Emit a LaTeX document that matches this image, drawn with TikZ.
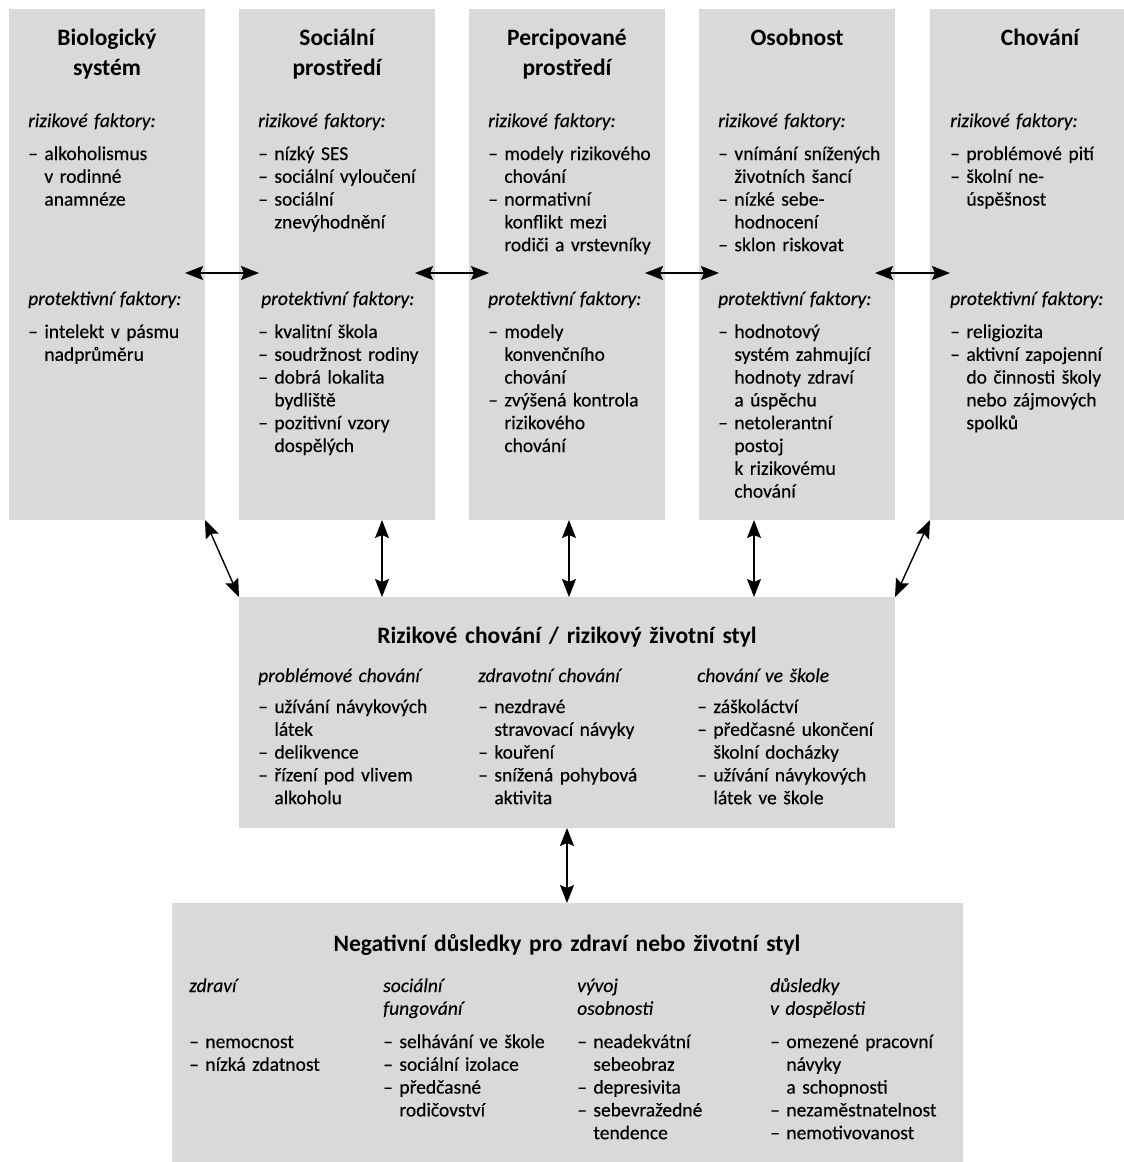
\documentclass[tikz,border=0pt]{standalone}
\usepackage{fontspec}
\setmainfont{Carlito}[WordSpace=0.6, UprightFeatures={FakeBold=0.35}, ItalicFeatures={FakeBold=0.3}]
\usetikzlibrary{arrows.meta}
\definecolor{boxgray}{RGB}{217,217,217}
\newcommand\ii{\hphantom{–\ }}
\tikzset{
  box/.style={fill=boxgray, draw=none, inner sep=0pt, outer sep=0pt, anchor=north west},
  body/.style={font=\fontsize{19.5}{22.8}\selectfont, anchor=base west, inner sep=0pt, align=left, text width=260pt},
  hdr/.style={body, font=\fontsize{19.5}{22.8}\selectfont\itshape},
  ttl/.style={font=\fontsize{23.5}{30}\selectfont\bfseries, anchor=base, inner sep=0pt, align=center, text width=400pt},
  arr/.style={{Stealth[length=18pt,width=14pt,inset=3pt]}-{Stealth[length=18pt,width=14pt,inset=3pt]}, line width=1.4pt},
}
\begin{document}
\begin{tikzpicture}[x=1pt,y=-1pt]
\useasboundingbox (0,0) rectangle (1124,1162);
% boxes
\node[box, minimum width=196pt, minimum height=511pt] (b1) at (9,9) {};
\node[box, minimum width=196pt, minimum height=511pt] (b2) at (239,9) {};
\node[box, minimum width=196pt, minimum height=511pt] (b3) at (469,9) {};
\node[box, minimum width=196pt, minimum height=511pt] (b4) at (699,9) {};
\node[box, minimum width=196pt, minimum height=511pt] (b5) at (930,9) {};
\node[box, minimum width=656pt, minimum height=231pt] (mid) at (239,597) {};
\node[box, minimum width=791pt, minimum height=259pt] (bot) at (172,903) {};
% arrows
\draw[arr, shorten <=-20pt, shorten >=-20pt] ([yshift=-8.5pt]b1.east) -- ([yshift=-8.5pt]b2.west);
\draw[arr, shorten <=-20pt, shorten >=-20pt] ([yshift=-8.5pt]b2.east) -- ([yshift=-8.5pt]b3.west);
\draw[arr, shorten <=-20pt, shorten >=-20pt] ([yshift=-8.5pt]b3.east) -- ([yshift=-8.5pt]b4.west);
\draw[arr, shorten <=-20pt, shorten >=-20pt] ([yshift=-8.5pt]b4.east) -- ([yshift=-8.5pt]b5.west);
\draw[arr] (b1.south east) -- (mid.north west);
\draw[arr] ([xshift=45pt]b2.south) -- ([xshift=45pt]b2.south |- mid.north);
\draw[arr] ([xshift=2pt]b3.south) -- ([xshift=2pt]b3.south |- mid.north);
\draw[arr] ([xshift=-43pt]b4.south) -- ([xshift=-43pt]b4.south |- mid.north);
\draw[arr] (b5.south west) -- (mid.north east);
\draw[arr] (mid.south) -- (mid.south |- bot.north);
% box 1
\node[ttl] (t1) at (107,45) {Biologický\\systém};
\node[hdr] (h1r) at (28,127) {rizikové faktory:};
\node[body] (l1r) at (28,160) {–\ alkoholismus\\\ii v rodinné\\\ii anamnéze};
\node[hdr] (h1p) at (28,305) {protektivní faktory:};
\node[body] (l1p) at (28,338) {–\ intelekt v pásmu\\\ii nadprůměru};
% box 2
\node[ttl] (t2) at (337,45) {Sociální\\prostředí};
\node[hdr] (h2r) at (258,127) {rizikové faktory:};
\node[body] (l2r) at (258,160) {–\ nízký SES\\–\ sociální vyloučení\\–\ sociální\\\ii znevýhodnění};
\node[hdr] (h2p) at (261,305) {protektivní faktory:};
\node[body] (l2p) at (258,338) {–\ kvalitní škola\\–\ soudržnost rodiny\\–\ dobrá lokalita\\\ii bydliště\\–\ pozitivní vzory\\\ii dospělých};
% box 3
\node[ttl] (t3) at (567,45) {Percipované\\prostředí};
\node[hdr] (h3r) at (488,127) {rizikové faktory:};
\node[body] (l3r) at (488,160) {–\ modely rizikového\\\ii chování\\–\ normativní\\\ii konflikt mezi\\\ii rodiči a vrstevníky};
\node[hdr] (h3p) at (488,305) {protektivní faktory:};
\node[body] (l3p) at (488,338) {–\ modely\\\ii konvenčního\\\ii chování\\–\ zvýšená kontrola\\\ii rizikového\\\ii chování};
% box 4
\node[ttl] (t4) at (797,45) {Osobnost};
\node[hdr] (h4r) at (718,127) {rizikové faktory:};
\node[body] (l4r) at (718,160) {–\ vnímání snížených\\\ii životních šancí\\–\ nízké sebe-\\\ii hodnocení\\–\ sklon riskovat};
\node[hdr] (h4p) at (718,305) {protektivní faktory:};
\node[body] (l4p) at (718,338) {–\ hodnotový\\\ii systém zahmující\\\ii hodnoty zdraví\\\ii a úspěchu\\–\ netolerantní\\\ii postoj\\\ii k rizikovému\\\ii chování};
% box 5
\node[ttl] (t5) at (1040,45) {Chování};
\node[hdr] (h5r) at (950,127) {rizikové faktory:};
\node[body] (l5r) at (950,160) {–\ problémové pití\\–\ školní ne-\\\ii úspěšnost};
\node[hdr] (h5p) at (950,305) {protektivní faktory:};
\node[body] (l5p) at (950,338) {–\ religiozita\\–\ aktivní zapojenní\\\ii do činnosti školy\\\ii nebo zájmových\\\ii spolků};
% middle
\node[ttl, text width=640pt] (tm) at (567,643) {Rizikové chování / rizikový životní styl};
\node[hdr] (hm1) at (258,682) {problémové chování};
\node[body] (lm1) at (258,713) {–\ užívání návykových\\\ii látek\\–\ delikvence\\–\ řízení pod vlivem\\\ii alkoholu};
\node[hdr] (hm2) at (478,682) {zdravotní chování};
\node[body] (lm2) at (478,713) {–\ nezdravé\\\ii stravovací návyky\\–\ kouření\\–\ snížená pohybová\\\ii aktivita};
\node[hdr] (hm3) at (697,682) {chování ve škole};
\node[body] (lm3) at (697,713) {–\ záškoláctví\\–\ předčasné ukončení\\\ii školní docházky\\–\ užívání návykových\\\ii látek ve škole};
% bottom
\node[ttl, text width=760pt] (tb) at (567,951) {Negativní důsledky pro zdraví nebo životní styl};
\node[hdr] (hb1) at (189,992) {zdraví};
\node[body] (lb1) at (189,1048) {–\ nemocnost\\–\ nízká zdatnost};
\node[hdr] (hb2) at (383,992) {sociální\\fungování};
\node[body] (lb2) at (383,1048) {–\ selhávání ve škole\\–\ sociální izolace\\–\ předčasné\\\ii rodičovství};
\node[hdr] (hb3) at (577,992) {vývoj\\osobnosti};
\node[body] (lb3) at (577,1048) {–\ neadekvátní\\\ii sebeobraz\\–\ depresivita\\–\ sebevražedné\\\ii tendence};
\node[hdr] (hb4) at (770,992) {důsledky\\v dospělosti};
\node[body] (lb4) at (770,1048) {–\ omezené pracovní\\\ii návyky\\\ii a schopnosti\\–\ nezaměstnatelnost\\–\ nemotivovanost};
\end{tikzpicture}
\end{document}
